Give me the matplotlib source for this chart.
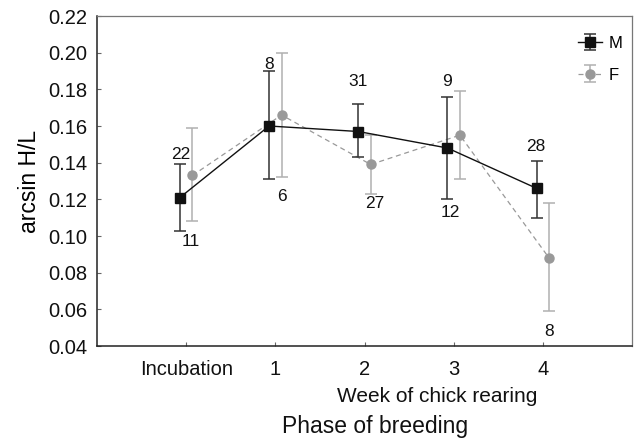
import matplotlib.pyplot as plt
import numpy as np

plt.rcParams['font.family'] = ['Liberation Sans', 'DejaVu Sans']

# categories on the x axis
phases = ['Incubation', '1', '2', '3', '4']

# males: mean, lower and upper end of error bar
m_mean = [0.121, 0.160, 0.157, 0.148, 0.126]
m_low = [0.103, 0.131, 0.143, 0.120, 0.110]
m_high = [0.139, 0.190, 0.172, 0.176, 0.141]
m_n = ['22', '8', '31', '9', '28']

# females
f_mean = [0.133, 0.166, 0.139, 0.155, 0.088]
f_low = [0.108, 0.132, 0.123, 0.131, 0.059]
f_high = [0.159, 0.200, 0.155, 0.179, 0.118]
f_n = ['11', '6', '27', '12', '8']

x = np.arange(len(phases))
off = 0.07

fig = plt.figure(figsize=(6.34, 4.42), dpi=100)
ax = fig.add_axes([97/634, 1-346/442, (632-97)/634, (346-16)/442])

m_mean = np.array(m_mean); f_mean = np.array(f_mean)
m_err = [m_mean - np.array(m_low), np.array(m_high) - m_mean]
f_err = [f_mean - np.array(f_low), np.array(f_high) - f_mean]

ax.errorbar(x + off, f_mean, yerr=f_err, color='#999999', ls='--', lw=0.9,
            marker='o', ms=6.5, mfc='#999999', mec='#999999',
            ecolor='#b0b0b0', elinewidth=1.1, capsize=4, capthick=1.1,
            dashes=(4, 3), label='F', zorder=2)
ax.errorbar(x - off, m_mean, yerr=m_err, color='#111111', ls='-', lw=1.0,
            marker='s', ms=6.5, mfc='#111111', mec='#111111',
            ecolor='#333333', elinewidth=1.1, capsize=4, capthick=1.1,
            label='M', zorder=3)

# sample sizes
lab_pos = [(-0.06, 0.1445), (0.05, 0.0970),
           (0.93, 0.1935), (1.07, 0.1215),
           (1.93, 0.1845), (2.11, 0.1175),
           (2.92, 0.1845), (2.96, 0.1130),
           (3.92, 0.1490), (4.07, 0.0480)]
labels = [m_n[0], f_n[0], m_n[1], f_n[1], m_n[2], f_n[2], m_n[3], f_n[3], m_n[4], f_n[4]]
for (lx, ly), t in zip(lab_pos, labels):
    ax.text(lx, ly, t, ha='center', va='center', fontsize=12.5, color='#111111')

ax.set_xlim(-1, 5)
ax.set_ylim(0.04, 0.22)
ax.set_xticks(x)
ax.set_xticklabels(phases)
ax.set_yticks(np.arange(0.04, 0.2201, 0.02))
ax.set_yticklabels(['%.2f' % v for v in np.arange(0.04, 0.2201, 0.02)])
ax.tick_params(axis='x', direction='in', length=3, width=0.8, pad=10,
               labelsize=14.5, colors='#666666', labelcolor='#111111')
ax.tick_params(axis='y', direction='in', length=3, width=0.8, pad=7,
               labelsize=14.5, colors='#666666', labelcolor='#111111')
for s in ['top', 'right']:
    ax.spines[s].set_color('#777777')
    ax.spines[s].set_linewidth(0.9)
for s in ['left', 'bottom']:
    ax.spines[s].set_color('#222222')
    ax.spines[s].set_linewidth(1.1)

ax.set_ylabel('arcsin H/L', fontsize=16.5, labelpad=5)

h, l = ax.get_legend_handles_labels()
ax.legend(h[::-1], l[::-1], loc='upper right', frameon=False, fontsize=12,
          handlelength=1.4, labelspacing=1.0, bbox_to_anchor=(1.01, 0.985),
          handletextpad=0.4)

fig.text(437/634, 1-397/442, 'Week of chick rearing', ha='center', va='center',
         fontsize=15, color='#111111')
fig.text(375/634, 1-427/442, 'Phase of breeding', ha='center', va='center',
         fontsize=16.5, color='#111111')

fig.savefig('out.png', dpi=100)
